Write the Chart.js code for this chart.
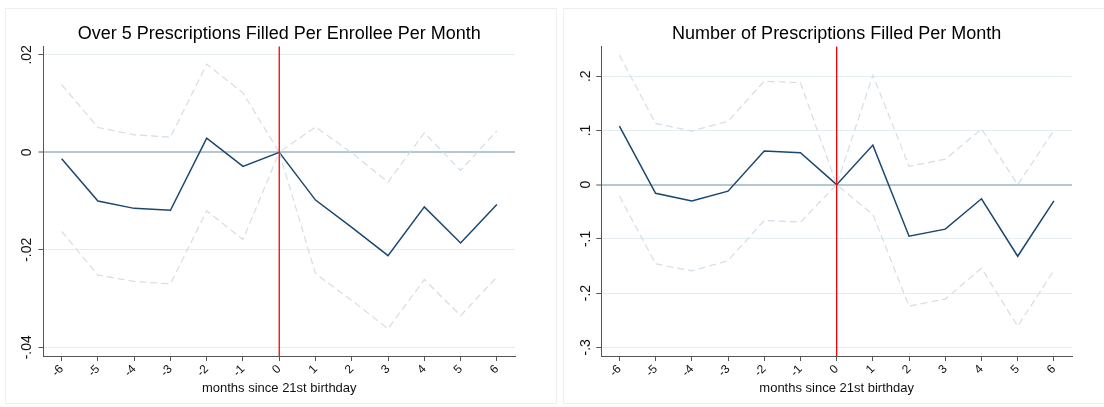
<!DOCTYPE html>
<html>
<head>
<meta charset="utf-8">
<script src="https://cdn.jsdelivr.net/npm/chart.js@4"></script>
<style>
    html, body { margin: 0; padding: 0; background: #fff; }
    body { width: 1104px; height: 407px; position: relative; overflow: hidden; }
    .panel { position: absolute; border: 1px solid #efefef; box-sizing: border-box; }
    canvas { position: absolute; }
</style>
</head>
<body>
<div class="panel" style="left:5px; top:8px; width:552px; height:396px;"></div>
<div class="panel" style="left:563px; top:8px; width:560px; height:396px;"></div>
<canvas id="over5Chart" width="552" height="395" style="left:5px; top:8px;"></canvas>
<canvas id="rxChart" width="541" height="395" style="left:563px; top:8px;"></canvas>
<script>
// months relative to the 21st birthday
const months = [-6, -5, -4, -3, -2, -1, 0, 1, 2, 3, 4, 5, 6];
const monthTickLabels = ['-6', '-5', '-4', '-3', '-2', '-1', '0', '1', '2', '3', '4', '5', '6'];
const eventMonth = 0;

// Over 5 prescriptions filled per enrollee per month
const over5Coef = [-0.0013, -0.0100, -0.0115, -0.0119, 0.0029, -0.0029, 0, -0.0098, -0.0154, -0.0212, -0.0112, -0.0186, -0.0107];
const over5Upper = [0.0139, 0.0051, 0.0036, 0.0031, 0.0181, 0.0122, 0, 0.0052, -0.0001, -0.0061, 0.0040, -0.0037, 0.0044];
const over5Lower = [-0.0162, -0.0252, -0.0265, -0.0270, -0.0120, -0.0179, 0, -0.0249, -0.0304, -0.0362, -0.0261, -0.0335, -0.0256];
const over5YTicks = [-0.04, -0.02, 0, 0.02];
const over5YTickLabels = ['-.04', '-.02', '0', '.02'];

// Number of prescriptions filled per month
const rxCoef = [0.108, -0.016, -0.030, -0.012, 0.062, 0.059, 0, 0.073, -0.095, -0.082, -0.026, -0.132, -0.030];
const rxUpper = [0.239, 0.113, 0.099, 0.117, 0.191, 0.188, 0, 0.202, 0.034, 0.047, 0.103, 0.000, 0.100];
const rxLower = [-0.021, -0.146, -0.159, -0.140, -0.066, -0.069, 0, -0.055, -0.224, -0.211, -0.154, -0.261, -0.158];
const rxYTicks = [-0.3, -0.2, -0.1, 0, 0.1, 0.2];
const rxYTickLabels = ['-.3', '-.2', '-.1', '0', '.1', '.2'];

const FONT = '"Liberation Sans", Arial, Helvetica, sans-serif';
const AXIS_COLOR = '#555555';

const toPoints = (values) => values.map((y, i) => ({ x: months[i], y }));

// vertical red line at the birthday month
const eventLine = {
    id: 'eventLine',
    afterDatasetsDraw(chart) {
        const { ctx, chartArea, scales } = chart;
        const x = scales.x.getPixelForValue(eventMonth);
        ctx.save();
        ctx.strokeStyle = '#ff0000';
        ctx.lineWidth = 1.3;
        ctx.beginPath();
        ctx.moveTo(x, chartArea.top);
        ctx.lineTo(x, chartArea.bottom);
        ctx.stroke();
        ctx.restore();
    },
};

function buildChart(canvasId, opts) {
    const ciStyle = {
        borderColor: '#d3dee7',
        borderWidth: 1.2,
        borderDash: [7, 4],
        pointRadius: 0,
        tension: 0,
    };

    return new Chart(document.getElementById(canvasId), {
        type: 'line',
        data: {
            datasets: [
                { ...ciStyle, data: toPoints(opts.upper) },
                { ...ciStyle, data: toPoints(opts.lower) },
                {
                    data: toPoints(opts.coef),
                    borderColor: '#1a476f',
                    borderWidth: 1.5,
                    pointRadius: 0,
                    tension: 0,
                },
            ],
        },
        options: {
            responsive: false,
            animation: false,
            layout: { padding: { left: 0, right: opts.padRight, top: 0, bottom: 0 } },
            plugins: {
                legend: { display: false },
                tooltip: { enabled: false },
                title: {
                    display: true,
                    text: opts.title,
                    fullSize: false,
                    color: '#000',
                    font: { family: FONT, size: 18, weight: 'normal' },
                    padding: { top: 15, bottom: 2 },
                },
            },
            scales: {
                x: {
                    type: 'linear',
                    min: -6.5,
                    max: 6.5,
                    afterBuildTicks: (scale) => {
                        scale.ticks = months.map((m) => ({ value: m }));
                    },
                    afterFit: (scale) => {
                        scale.height = 47;
                    },
                    ticks: {
                        minRotation: 45,
                        maxRotation: 45,
                        padding: 1,
                        color: '#111',
                        font: { family: FONT, size: 12 },
                        callback: (value, index) => monthTickLabels[index],
                    },
                    grid: {
                        drawOnChartArea: false,
                        drawTicks: true,
                        tickLength: 5,
                        tickColor: AXIS_COLOR,
                    },
                    border: { display: true, color: AXIS_COLOR, width: 1 },
                    title: {
                        display: true,
                        text: 'months since 21st birthday',
                        color: '#111',
                        font: { family: FONT, size: 13 },
                        padding: { top: 0, bottom: 7 },
                    },
                },
                y: {
                    type: 'linear',
                    min: opts.yMin,
                    max: opts.yMax,
                    afterBuildTicks: (scale) => {
                        scale.ticks = opts.yTicks.map((v) => ({ value: v }));
                    },
                    afterFit: (scale) => {
                        scale.width = opts.yWidth;
                    },
                    ticks: {
                        minRotation: 90,
                        maxRotation: 90,
                        crossAlign: 'center',
                        padding: opts.yPad,
                        color: '#111',
                        font: { family: FONT, size: 14 },
                        callback: (value, index) => opts.yTickLabels[index],
                    },
                    grid: {
                        color: (ctx) => (ctx.tick && ctx.tick.value === 0 ? '#b3c7d4' : '#e5edf0'),
                        lineWidth: (ctx) => (ctx.tick && ctx.tick.value === 0 ? 2 : 1),
                        tickLength: 5,
                        tickColor: AXIS_COLOR,
                        tickWidth: 1,
                    },
                    border: { display: true, color: AXIS_COLOR, width: 1 },
                },
            },
        },
        plugins: [eventLine],
    });
}

buildChart('over5Chart', {
    title: 'Over 5 Prescriptions Filled Per Enrollee Per Month',
    coef: over5Coef,
    upper: over5Upper,
    lower: over5Lower,
    yTicks: over5YTicks,
    yTickLabels: over5YTickLabels,
    yMin: -0.0418,
    yMax: 0.0217,
    yWidth: 38.5,
    yPad: -1,
    padRight: 42,
});

buildChart('rxChart', {
    title: 'Number of Prescriptions Filled Per Month',
    coef: rxCoef,
    upper: rxUpper,
    lower: rxLower,
    yTicks: rxYTicks,
    yTickLabels: rxYTickLabels,
    yMin: -0.316,
    yMax: 0.2547,
    yWidth: 38.3,
    yPad: 2,
    padRight: 32,
});
</script>
</body>
</html>
